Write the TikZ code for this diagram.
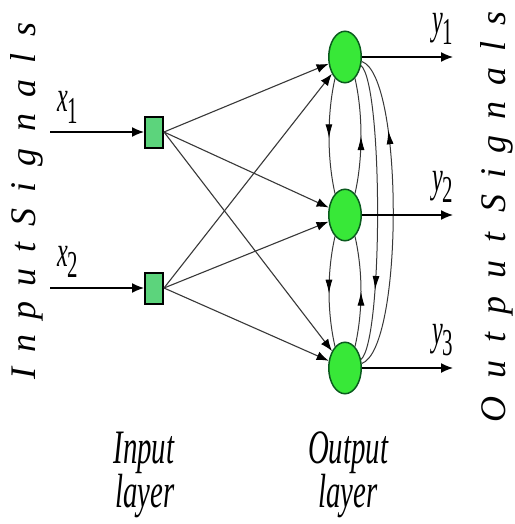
\documentclass[tikz,border=0pt]{standalone}
\usepackage{fontspec}
\setmainfont{Liberation Serif}
\usetikzlibrary{arrows.meta,decorations.markings,shapes.geometric}
\definecolor{sqgreen}{HTML}{5CD47C}
\definecolor{cgreen}{HTML}{38E838}
\definecolor{cborder}{HTML}{0A5A1E}
\definecolor{lgray}{HTML}{383838}
\newcommand{\sbx}[1]{\raisebox{-11pt}{\fontsize{38}{40}\selectfont\upshape #1}}
\begin{document}
\begin{tikzpicture}[x=1pt,y=-1pt,
 inbox/.style={draw=black,line width=2pt,fill=sqgreen,minimum width=18pt,minimum height=31pt,inner sep=0pt},
 onode/.style={ellipse,draw=cborder,line width=1.5pt,fill=cgreen,minimum width=32.5pt,minimum height=51.5pt,inner sep=0pt},
 conn/.style={draw=lgray,line width=1.1pt,-{Latex[length=12pt,width=9pt,color=black]}},
 sig/.style={draw=black,line width=1.4pt,-{Latex[length=12pt,width=10pt]}},
 fb/.style={draw=lgray,line width=1pt,postaction={decorate},decoration={markings,mark=at position #1 with {\arrow{Latex[length=14pt,width=7pt,color=black]}}}},
 lab/.style={inner sep=0pt,font=\fontsize{44}{48}\selectfont\itshape,xscale=0.55},
 lay/.style={inner sep=0pt,font=\fontsize{48}{48}\selectfont\itshape,xscale=0.6,anchor=base},
 vert/.style={inner sep=0pt,font=\fontsize{36}{40}\selectfont\itshape,rotate=90,anchor=base west}]
\fill[white] (0,0) rectangle (514,524);
\useasboundingbox (0,0) rectangle (514,524);

% nodes
\node[inbox] (I1) at (154,132) {};
\node[inbox] (I2) at (154,288) {};
\node[onode] (O1) at (345,57) {};
\node[onode] (O2) at (345,215) {};
\node[onode] (O3) at (345,368) {};

\coordinate (s1) at (50,132);
\coordinate (s2) at (50,288);
\coordinate (t1) at (453,57);
\coordinate (t2) at (453,215);
\coordinate (t3) at (453,368);

% input signals
\draw[sig] (s1) -- (I1);
\draw[sig] (s2) -- (I2);

% full connections
\foreach \i in {I1,I2}
  \foreach \o in {O1,O2,O3}
    \draw[conn] (\i.east) -- (\o);

% lateral feedback
\draw[fb=0.52] (O1.245) .. controls +(-8,35) and +(-8,-35) .. (O2.115);
\draw[fb=0.5]  (O2.65)  .. controls +(8,-35) and +(8,35) .. (O1.295);
\draw[fb=0.52] (O2.245) .. controls +(-8,35) and +(-8,-35) .. (O3.115);
\draw[fb=0.5]  (O3.65)  .. controls +(8,-35) and +(8,35) .. (O2.295);
\draw[fb=0.76] (O3.15) .. controls +(42,-15) and +(42,14) .. (O1.-15);
\draw[fb=0.76] (O1.-28) .. controls +(22,20) and +(22,-20) .. (O3.28);

% outputs
\draw[sig] (O1) -- (t1);
\draw[sig] (O2) -- (t2);
\draw[sig] (O3) -- (t3);

% labels
\node[lab,anchor=base west] (x1) at (57,112) {x\sbx{1}};
\node[lab,anchor=base west] (x2) at (57,266) {x\sbx{2}};
\node[lab,anchor=base west] (y1) at (432,34) {y\sbx{1}};
\node[lab,anchor=base west] (y2) at (432,191) {y\sbx{2}};
\node[lab,anchor=base west] (y3) at (432,344) {y\sbx{3}};

\node[lay] (il1) at (144,463) {Input};
\node[lay] (il2) at (145,507) {layer};
\node[lay] (ol1) at (348,463) {Output};
\node[lay] (ol2) at (348,507) {layer};

\node[vert] (vin) at (35,380) {\makebox[137pt]{I\hfill n\hfill p\hfill u\hfill t}\hspace{16pt}\makebox[204pt]{S\hfill i\hfill g\hfill n\hfill a\hfill l\hfill s}};
\node[vert] (vout) at (505,423) {\makebox[190pt]{O\hfill u\hfill t\hfill p\hfill u\hfill t}\hspace{20pt}\makebox[201pt]{S\hfill i\hfill g\hfill n\hfill a\hfill l\hfill s}};
\end{tikzpicture}
\end{document}
